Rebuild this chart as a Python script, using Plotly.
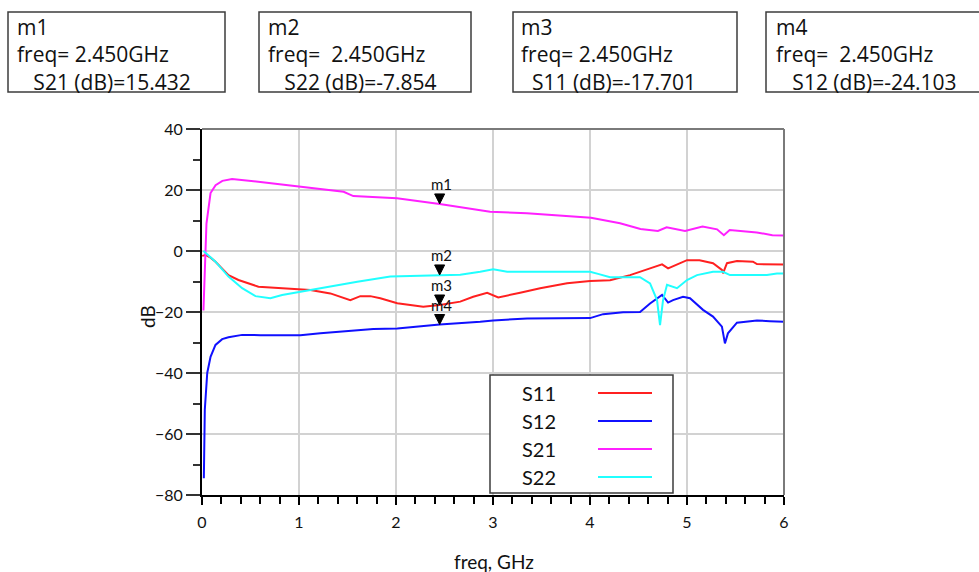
import plotly.graph_objects as go

# ---------------- data (freq in GHz, magnitude in dB) ----------------
freq_s11 = [0.002, 0.036, 0.088, 0.139, 0.273, 0.376, 0.582, 0.788, 0.994, 1.117, 1.323, 1.529,
            1.632, 1.735, 1.838, 2.013, 2.281, 2.45, 2.662, 2.796, 2.94, 3.054, 3.28, 3.486,
            3.764, 4.001, 4.207, 4.413, 4.619, 4.743, 4.805, 4.897, 5.0, 5.129, 5.268, 5.36,
            5.371, 5.412, 5.515, 5.68, 5.721, 6.0]
s11_db = [-1.6, -1.3, -2.2, -3.5, -7.9, -9.5, -11.7, -12.2, -12.6, -12.8, -13.9, -16.1,
          -14.8, -14.8, -15.5, -17.1, -18.3, -17.701, -16.6, -15.0, -13.7, -15.2, -13.7, -12.2,
          -10.6, -9.8, -9.6, -7.9, -5.7, -4.4, -5.7, -4.4, -3.0, -3.0, -4.0, -6.2,
          -7.3, -4.0, -3.3, -3.5, -4.3, -4.4]

freq_s12 = [0.019, 0.029, 0.054, 0.088, 0.139, 0.208, 0.273, 0.414, 0.602, 1.014, 1.22, 1.498,
            1.766, 2.013, 2.322, 2.45, 2.868, 3.002, 3.352, 4.001, 4.135, 4.341, 4.516, 4.619,
            4.743, 4.805, 4.856, 4.959, 5.031, 5.165, 5.268, 5.36, 5.391, 5.422, 5.515, 5.721,
            5.855, 6.0]
s12_db = [-74.5, -52.0, -40.0, -34.7, -30.8, -28.9, -28.3, -27.5, -27.6, -27.6, -27.0, -26.2,
          -25.6, -25.4, -24.5, -24.103, -23.2, -22.8, -22.1, -22.0, -20.7, -20.1, -20.0, -17.2,
          -14.4, -16.9, -16.1, -15.0, -15.5, -19.3, -21.5, -24.8, -30.3, -27.0, -23.5, -22.8,
          -23.0, -23.2]

freq_s21 = [0.015, 0.03, 0.046, 0.088, 0.14, 0.21, 0.31, 0.58, 0.76, 1.07, 1.46, 1.56, 2.01,
            2.45, 2.97, 3.35, 3.80, 4.01, 4.31, 4.52, 4.70, 4.79, 4.98, 5.16, 5.31, 5.38, 5.44,
            5.72, 5.88, 6.0]
s21_db = [-19.5, -3.0, 9.0, 19.0, 21.6, 23.0, 23.6, 22.7, 22.0, 20.9, 19.4, 18.0, 17.3,
          15.432, 12.9, 12.4, 11.3, 10.9, 9.1, 7.2, 6.6, 7.8, 6.6, 8.0, 7.1, 5.2, 6.9,
          6.1, 5.2, 5.1]

freq_s22 = [0.015, 0.139, 0.273, 0.414, 0.551, 0.705, 0.826, 1.066, 1.323, 1.601, 1.941, 2.45,
            2.662, 2.868, 3.002, 3.146, 4.001, 4.083, 4.207, 4.516, 4.619, 4.691, 4.722, 4.753,
            4.794, 4.897, 5.0, 5.103, 5.268, 5.371, 5.443, 5.824, 5.927, 6.0]
s22_db = [0.0, -3.5, -8.4, -12.2, -14.8, -15.5, -14.4, -13.0, -11.7, -10.1, -8.4, -7.854,
          -7.8, -6.8, -6.0, -6.8, -6.8, -7.5, -8.6, -8.6, -10.6, -16.1, -24.3, -16.1,
          -11.1, -12.2, -9.5, -7.9, -6.8, -6.8, -7.9, -7.9, -7.4, -7.4]

series_names = ["S11", "S12", "S21", "S22"]
series_colors = ["#ff2020", "#1010ff", "#ff20ff", "#20ffff"]
series_freq = [freq_s11, freq_s12, freq_s21, freq_s22]
series_db = [s11_db, s12_db, s21_db, s22_db]

# markers: name, trace, frequency, value
marker_names = ["m1", "m2", "m3", "m4"]
marker_traces = ["S21", "S22", "S11", "S12"]
marker_freq = [2.450, 2.450, 2.450, 2.450]
marker_db = [15.432, -7.854, -17.701, -24.103]

# ---------------- layout geometry (pixels) ----------------
W, H = 979, 572
PL, PR, PT, PB = 202, 784, 129, 495
FONT = "Lato"
BOX_FONT = "Open Sans"
NB = "\u00a0"


def xp(px):
    return (px - PL) / (PR - PL)


def yp(py):
    return (PB - py) / (PB - PT)


fig = go.Figure()
for name, color, f, v in zip(series_names, series_colors, series_freq, series_db):
    fig.add_trace(go.Scatter(x=f, y=v, mode="lines", name=name,
                             line=dict(color=color, width=2), showlegend=False))

shapes = []
annotations = []

# plot frame (top / right edges)
shapes.append(dict(type="line", xref="paper", yref="paper", x0=0, x1=1, y0=1, y1=1,
                   line=dict(color="#7a7a7a", width=2)))
shapes.append(dict(type="line", xref="paper", yref="paper", x0=1, x1=1, y0=0, y1=1,
                   line=dict(color="#7a7a7a", width=2)))

# marker triangles and labels on the traces
for mname, f, v in zip(marker_names, marker_freq, marker_db):
    shapes.append(dict(type="path", xref="x", yref="y", xsizemode="pixel", ysizemode="pixel",
                       xanchor=f, yanchor=v, path="M -5 10 L 5 10 L 0 0 Z",
                       fillcolor="black", line=dict(color="black", width=1)))
    annotations.append(dict(x=f, y=v, xref="x", yref="y", text=mname, showarrow=False,
                            xanchor="center", yanchor="bottom", yshift=9, xshift=2,
                            font=dict(family=FONT, size=15, color="#111")))

# marker readout boxes along the top
box_left = [8, 259, 513, 766]
box_right = [225, 471, 737, 985]
text_left = [16, 267, 520, 775]
freq_gap = [1, 2, 1, 2]
val_indent = [3, 3, 2, 3]
for i in range(4):
    shapes.append(dict(type="rect", xref="paper", yref="paper",
                       x0=xp(box_left[i]), x1=xp(box_right[i]), y0=yp(92), y1=yp(12),
                       line=dict(color="#3c3c3c", width=1.5), fillcolor="white"))
    txt = "<br>".join([
        marker_names[i],
        "freq=" + NB * freq_gap[i] + f"{marker_freq[i]:.3f}GHz",
        NB * val_indent[i] + f"{marker_traces[i]} (dB)={marker_db[i]:.3f}",
    ])
    annotations.append(dict(x=xp(text_left[i]), y=yp(12), xref="paper", yref="paper",
                            text=txt, showarrow=False, xanchor="left", yanchor="top",
                            align="left", borderpad=0,
                            font=dict(family=BOX_FONT, size=21, color="#111")))

# legend box: name on the left, line sample on the right
shapes.append(dict(type="rect", xref="paper", yref="paper", x0=xp(490), x1=xp(673),
                   y0=yp(493), y1=yp(375), line=dict(color="#3c3c3c", width=1.5),
                   fillcolor="white"))
for k, (name, color) in enumerate(zip(series_names, series_colors)):
    cy = 393 + 28 * k
    annotations.append(dict(x=xp(520), y=yp(cy), xref="paper", yref="paper", text=name,
                            showarrow=False, xanchor="left", yanchor="middle",
                            font=dict(family=FONT, size=20, color="#111")))
    shapes.append(dict(type="line", xref="paper", yref="paper", x0=xp(598), x1=xp(652),
                       y0=yp(cy), y1=yp(cy), line=dict(color=color, width=2)))

# axis titles
annotations.append(dict(x=xp(494), y=yp(561), xref="paper", yref="paper", text="freq, GHz",
                        showarrow=False, xanchor="center", yanchor="middle",
                        font=dict(family=FONT, size=19, color="#111")))
annotations.append(dict(x=xp(147), y=yp(317), xref="paper", yref="paper", text="dB",
                        showarrow=False, xanchor="center", yanchor="middle", textangle=-90,
                        font=dict(family=FONT, size=19, color="#111")))

fig.update_layout(
    width=W, height=H,
    margin=dict(l=PL, r=W - PR, t=PT, b=H - PB, pad=0),
    paper_bgcolor="white", plot_bgcolor="white",
    showlegend=False,
    shapes=shapes, annotations=annotations,
    font=dict(family=FONT, size=16, color="#111"),
)
fig.update_xaxes(
    range=[0, 6], tickvals=[0, 1, 2, 3, 4, 5, 6],
    showgrid=True, gridcolor="#d2d2d2", gridwidth=2, zeroline=False,
    showline=True, linecolor="black", linewidth=2,
    ticks="outside", ticklen=8, tickwidth=1.5, tickcolor="black",
    minor=dict(dtick=0.2, ticks="outside", ticklen=7, tickwidth=1.5, tickcolor="black",
               showgrid=False),
    tickfont=dict(family=FONT, size=16, color="#111"),
    ticklabelstandoff=4,
)
fig.update_yaxes(
    range=[-80, 40], tickvals=[-80, -60, -40, -20, 0, 20, 40],
    showgrid=True, gridcolor="#d2d2d2", gridwidth=2, zeroline=False,
    showline=True, linecolor="black", linewidth=2,
    ticks="outside", ticklen=14, tickwidth=1.5, tickcolor="#333",
    minor=dict(dtick=10, ticks="outside", ticklen=7, tickwidth=1.5, tickcolor="#333",
               showgrid=False),
    tickfont=dict(family=FONT, size=16, color="#111"),
    ticklabelstandoff=0,
)

fig.write_html("out.html")
